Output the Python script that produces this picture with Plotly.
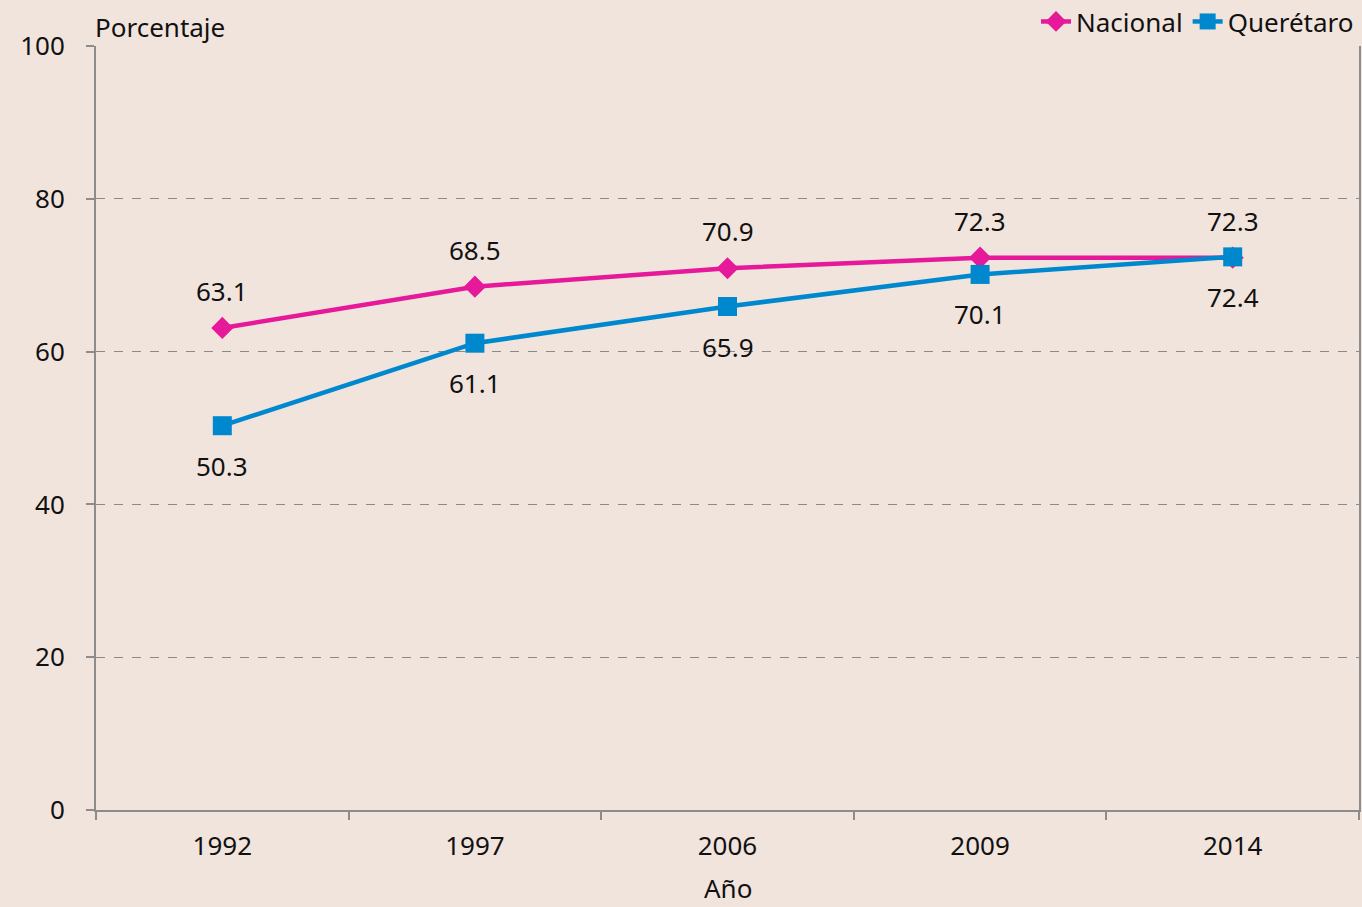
import plotly.graph_objects as go

years = ["1992", "1997", "2006", "2009", "2014"]
nacional = [63.1, 68.5, 70.9, 72.3, 72.3]
queretaro = [50.3, 61.1, 65.9, 70.1, 72.4]
y_ticks = [0, 20, 40, 60, 80, 100]

BG = "#F1E4DD"
PINK = "#E5199A"
BLUE = "#0088CF"
AXIS = "#8C8C8C"
FONT = "Noto Sans"
FS = 26

fig = go.Figure()
fig.add_trace(go.Scatter(
    x=years, y=nacional, name="Nacional", mode="lines+markers",
    line=dict(color=PINK, width=4.5),
    marker=dict(symbol="diamond", size=17, color=PINK),
))
fig.add_trace(go.Scatter(
    x=years, y=queretaro, name="Querétaro", mode="lines+markers",
    line=dict(color=BLUE, width=4.5),
    marker=dict(symbol="square", size=19, color=BLUE),
))

# value labels: Nacional above its points, Querétaro below
# (category positions given by index)
for i, v in enumerate(nacional):
    fig.add_annotation(x=i, y=v, text=f"{v:.1f}", showarrow=False,
                       yshift=37, font=dict(size=FS, color="#111"))
for i, v in enumerate(queretaro):
    fig.add_annotation(x=i, y=v, text=f"{v:.1f}", showarrow=False,
                       yshift=-40, font=dict(size=FS, color="#111"))

fig.add_annotation(xref="paper", yref="paper", x=-0.002, y=1.0, yshift=19,
                   xanchor="left", yanchor="middle", text="Porcentaje",
                   showarrow=False, font=dict(size=FS, color="#111"))
fig.add_annotation(xref="paper", yref="paper", x=0.5, y=0, yshift=-78,
                   xanchor="center", yanchor="middle", text="Año",
                   showarrow=False, font=dict(size=FS, color="#111"))

fig.update_layout(
    width=1362, height=907,
    margin=dict(l=96, r=3, t=46, b=97, autoexpand=False),
    paper_bgcolor=BG, plot_bgcolor=BG,
    font=dict(family=FONT, size=FS, color="#111"),
    showlegend=True,
    legend=dict(orientation="h", x=1.0, xanchor="right", y=1.032, yanchor="middle",
                yref="paper", bgcolor="rgba(0,0,0,0)", font=dict(size=FS),
                itemwidth=30, tracegroupgap=0),
)
fig.update_xaxes(
    type="category", range=[-0.5, 4.5],
    showline=True, linecolor=AXIS, linewidth=2,
    ticks="outside", tickson="boundaries", ticklen=8, tickcolor=AXIS, tickwidth=2,
    showgrid=False, zeroline=False, ticklabelstandoff=12,
)
fig.update_yaxes(
    range=[0, 100], tickvals=y_ticks,
    showline=True, linecolor=AXIS, linewidth=2, mirror=True,
    ticks="outside", ticklen=8, tickcolor=AXIS, tickwidth=2,
    showgrid=True, gridcolor="#8A8A8A", griddash="dash", gridwidth=1,
    zeroline=False, ticklabelstandoff=16,
)

fig.write_html("out.html")
